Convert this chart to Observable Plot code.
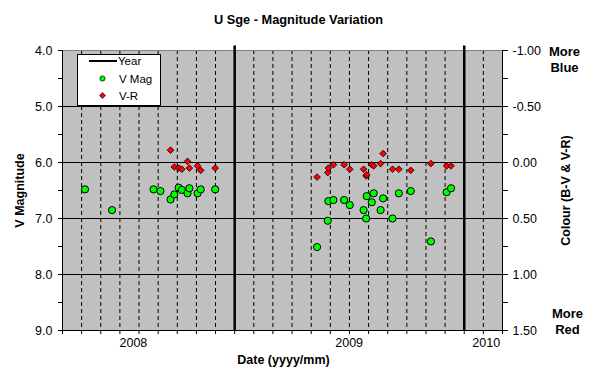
<!DOCTYPE html>
<html>
<head>
<meta charset="utf-8">
<script src="https://cdn.jsdelivr.net/npm/d3@7"></script>
<script src="https://cdn.jsdelivr.net/npm/@observablehq/plot@0.6"></script>
<style>
  html, body { margin: 0; padding: 0; background: #ffffff; }
  #chart { width: 592px; height: 371px; }
  svg { font-family: "Liberation Sans", Arial, sans-serif; }
</style>
</head>
<body>
<div id="chart"></div>
<script>
// ---- Data ----
const obsDates = [
  "2008-05-08","2008-06-20","2008-08-25","2008-09-05","2008-09-21","2008-09-27",
  "2008-10-04","2008-10-09","2008-10-18","2008-10-21","2008-11-03","2008-11-08","2008-12-01",
  "2009-05-12","2009-05-29","2009-05-30","2009-06-07","2009-06-24","2009-07-03",
  "2009-07-25","2009-07-29","2009-07-30","2009-08-07","2009-08-10","2009-08-21",
  "2009-08-25","2009-09-09","2009-09-19","2009-10-08","2009-11-09","2009-12-04","2009-12-11"
];
const vMag = [
  6.48, 6.85, 6.48, 6.51, 6.66, 6.57,
  6.45, 6.49, 6.55, 6.46, 6.55, 6.48, 6.48,
  7.51, 7.04, 6.69, 6.67, 6.67, 6.76,
  6.85, 7.00, 6.60, 6.71, 6.55, 6.85,
  6.64, 7.00, 6.55, 6.51, 7.41, 6.53, 6.46
];
const vMinusR = [
  null, null, null, null, -0.11, 0.04,
  0.05, 0.06, -0.01, 0.05, 0.03, 0.07, 0.05,
  0.13, 0.09, 0.05, 0.02, 0.02, 0.06,
  0.06, 0.12, 0.11, 0.02, 0.03, 0.01,
  -0.08, 0.06, 0.06, 0.07, 0.01, 0.03, 0.03
];
const yearLineDates = ["2009-01-01", "2010-01-01"];
const yearLabels = ["2008", "2009", "2010"];
const yearLabelDates = ["2008-07-24", "2009-07-02", "2010-02-05"];
const magTicks = [4, 5, 6, 7, 8, 9];
const magMinorTicks = [4.5, 5.5, 6.5, 7.5, 8.5];
const colourTicks = [-1.0, -0.5, 0.0, 0.5, 1.0, 1.5];
const colourMinorTicks = [-0.75, -0.25, 0.25, 0.75, 1.25];
const xStart = "2008-04-02T06:00:00Z";
const xEnd = "2010-03-02T20:00:00Z";
const monthsInAxis = 23;

// ---- derived ----
const parse = s => new Date(s.length === 10 ? s + "T00:00:00Z" : s);
const obs = obsDates.map((d, i) => ({date: parse(d), v: vMag[i], vr: vMinusR[i]}));
const vrObs = obs.filter(d => d.vr !== null);
const d0 = parse(xStart), d1 = parse(xEnd);
const gridDates = d3.range(0, monthsInAxis + 1).map(k => new Date(+d0 + k * (d1 - d0) / monthsInAxis));
// Colour axis shares the magnitude scale: colour 0.00 <-> mag 6.0, 0.50 colour per mag unit
const colourToMag = c => 6 + 2 * c;
const magToColour = m => (m - 6) / 2;

const font = "Liberation Sans, Arial, sans-serif";

const plot = Plot.plot({
  width: 592,
  height: 371,
  marginLeft: 62,
  marginRight: 90,
  marginTop: 50,
  marginBottom: 41,
  style: {fontFamily: font, fontSize: "12px", background: "#ffffff", color: "black"},
  x: {type: "utc", domain: [d0, d1], axis: null},
  y: {domain: [4, 9], reverse: true, axis: null},
  marks: [
    Plot.frame({fill: "#c0c0c0", stroke: null}),
    Plot.ruleX(gridDates, {stroke: "black", strokeWidth: 1, strokeDasharray: "4,3"}),
    Plot.ruleY([5, 6, 7, 8], {stroke: "black", strokeWidth: 1}),
    // plot-area borders
    Plot.ruleY([4], {stroke: "#808080", strokeWidth: 1}),
    Plot.ruleY([9], {stroke: "black", strokeWidth: 1}),
    Plot.ruleX([d0, d1], {stroke: "black", strokeWidth: 1}),
    // Year lines
    Plot.ruleX(yearLineDates.map(parse), {y1: 3.92, y2: 9, stroke: "black", strokeWidth: 2.5, clip: false}),
    // Left axis
    Plot.axisY({ticks: magTicks, tickFormat: d3.format(".1f"), tickSize: 4, tickPadding: 6, label: null, fontSize: 12.5}),
    Plot.axisY({ticks: magMinorTicks, tickFormat: () => "", tickSize: 4, label: null}),
    // Right axis (colour)
    Plot.axisY({anchor: "right", ticks: colourTicks.map(colourToMag), tickFormat: m => magToColour(m).toFixed(2), tickSize: 5, tickPadding: 5, label: null, fontSize: 12.5}),
    Plot.axisY({anchor: "right", ticks: colourMinorTicks.map(colourToMag), tickFormat: () => "", tickSize: 5, label: null}),
    // Bottom axis
    Plot.axisX({ticks: gridDates, tickFormat: () => "", tickSize: 4, label: null}),
    Plot.text(yearLabels, {x: (d, i) => parse(yearLabelDates[i]), text: d => d, frameAnchor: "bottom", dy: 12, lineAnchor: "middle", fontSize: 12.5, fill: "black"}),
    // Data
    Plot.dot(obs, {x: "date", y: "v", r: 3.6, fill: "#00ff00", stroke: "black", strokeWidth: 1}),
    Plot.dot(vrObs, {x: "date", y: d => colourToMag(d.vr), symbol: "diamond2", r: 3.0, fill: "#ff0000", stroke: "black", strokeWidth: 0.8}),
    // Titles
    Plot.text(["U Sge - Magnitude Variation"], {frameAnchor: "top", dx: 16, dy: -31, lineAnchor: "middle", fontWeight: "bold", fontSize: 12.8, fill: "black"}),
    Plot.text(["Date (yyyy/mm)"], {frameAnchor: "bottom", dx: 1, dy: 29, lineAnchor: "middle", fontWeight: "bold", fontSize: 12.5, fill: "black"}),
    Plot.text(["V Magnitude"], {frameAnchor: "left", dx: -43, rotate: -90, lineAnchor: "middle", textAnchor: "middle", fontWeight: "bold", fontSize: 12.5, fill: "black"}),
    Plot.text(["Colour (B-V & V-R)"], {frameAnchor: "right", dx: 63, rotate: -90, lineAnchor: "middle", textAnchor: "middle", fontWeight: "bold", fontSize: 12.5, fill: "black"}),
    Plot.text(["More\nBlue"], {frameAnchor: "top-right", dx: 62, dy: 8, lineAnchor: "middle", textAnchor: "middle", lineHeight: 1.23, fontWeight: "bold", fontSize: 13, fill: "black"}),
    Plot.text(["More\nRed"], {frameAnchor: "bottom-right", dx: 65, dy: -10, lineAnchor: "middle", textAnchor: "middle", lineHeight: 1.23, fontWeight: "bold", fontSize: 13, fill: "black"})
  ]
});

document.getElementById("chart").appendChild(plot);

// ---- Legend (drawn into the same SVG) ----
const svg = d3.select(plot);
const lg = svg.append("g").attr("transform", "translate(77,54)")
  .attr("font-family", font).attr("font-size", 11.5).attr("text-anchor", "start").attr("fill", "black");
lg.append("rect").attr("x", 0.5).attr("y", 0.5).attr("width", 83).attr("height", 51).attr("fill", "white").attr("stroke", "black").attr("stroke-width", 1);
lg.append("line").attr("x1", 12).attr("x2", 40).attr("y1", 7).attr("y2", 7).attr("stroke", "black").attr("stroke-width", 2);
lg.append("text").attr("x", 41).attr("y", 7).attr("dy", "0.35em").text("Year");
lg.append("circle").attr("cx", 25.5).attr("cy", 24.5).attr("r", 2.6).attr("fill", "#00ff00").attr("stroke", "black").attr("stroke-width", 0.7);
lg.append("text").attr("x", 42).attr("y", 24.5).attr("dy", "0.35em").text("V Mag");
lg.append("path").attr("d", d3.symbol(d3.symbolDiamond2, 22)()).attr("transform", "translate(25.5,41.5)").attr("fill", "#ff0000").attr("stroke", "black").attr("stroke-width", 0.7);
lg.append("text").attr("x", 42).attr("y", 41.5).attr("dy", "0.35em").text("V-R");
</script>
</body>
</html>
